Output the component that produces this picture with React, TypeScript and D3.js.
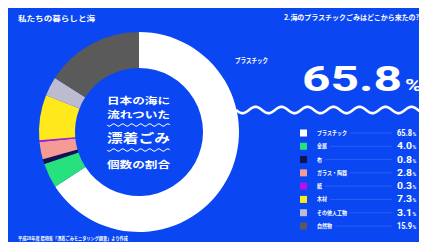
import React, { useLayoutEffect, useRef, useState } from "react";
import * as d3 from "d3";

const categories = ["プラスチック", "金属", "布", "ガラス・陶器", "紙", "木材", "その他人工物", "自然物"];
const shares = [65.8, 4.0, 0.8, 2.8, 0.3, 7.3, 3.1, 15.9];
const sliceColors = ["#ffffff", "#27e27c", "#12124c", "#f59a94", "#b412e6", "#ffe81c", "#bdbbcf", "#5a5a5a"];
const titleLeft = "私たちの暮らしと海";
const titleRight = "2.海のプラスチックごみはどこから来たの?";
const centerLines = ["日本の海に", "流れついた", "漂着ごみ", "個数の割合"];
const footnote = "平成28年度 環境省「漂着ごみモニタリング調査」より作成";

const W = 419;
const H = 234;
const BG = "#0a47f2";
const JP = "'Noto Sans CJK JP', 'Noto Sans', sans-serif";
const NUM = "Roboto, 'Liberation Sans', sans-serif";

function wavePath(x0: number, x1: number, y: number, amp: number, period: number) {
  const pts: [number, number][] = [];
  for (let x = x0; x <= x1; x += 1) {
    pts.push([x, y + amp * Math.sin(((x - x0) / period) * Math.PI * 2)]);
  }
  return d3.line().curve(d3.curveBasis)(pts) || "";
}

type FitProps = {
  x: number;
  y: number;
  width: number;
  size: number;
  family?: string;
  weight?: number;
  anchor?: "start" | "end";
  children: string;
};

function FitText({ x, y, width, size, family = JP, weight = 700, anchor = "start", children }: FitProps) {
  const ref = useRef<SVGTextElement>(null);
  const [k, setK] = useState(1);
  useLayoutEffect(() => {
    const measure = () => {
      if (ref.current) {
        const w = ref.current.getComputedTextLength();
        if (w > 0) setK(width / w);
      }
    };
    measure();
    if ((document as any).fonts && (document as any).fonts.ready) {
      (document as any).fonts.ready.then(measure);
    }
  }, [width, children]);
  return (
    <text
      ref={ref}
      transform={`translate(${x},${y}) scale(${k},1)`}
      fill="#fff"
      fontFamily={family}
      fontWeight={weight}
      fontSize={size}
      textAnchor={anchor}
    >
      {children}
    </text>
  );
}

export default function App() {
  const cx = 139, cy = 132, rOut = 100, rIn = 64;
  const pie = d3.pie<number>().sort(null).value((d) => d)(shares);
  const arc = d3.arc<d3.PieArcDatum<number>>().innerRadius(rIn).outerRadius(rOut);

  const legendY = d3.scalePoint<string>().domain(categories).range([133, 226]);

  return (
    <svg width={W} height={H} style={{ display: "block" }}>
      <g transform="translate(-8,-8)">
        <rect x={8} y={8} width={W} height={H} fill={BG} />
        <FitText x={18} y={21} width={77} size={7}>{titleLeft}</FitText>
        <FitText x={284} y={20} width={135} size={7}>{titleRight}</FitText>

        <g transform={`translate(${cx},${cy})`}>
          {pie.map((p, i) => (
            <path key={i} d={arc(p) || ""} fill={sliceColors[i]} />
          ))}
        </g>

        <FitText x={107} y={104} width={63} size={9.5}>{centerLines[0]}</FitText>
        <FitText x={107} y={118} width={63} size={9.5}>{centerLines[1]}</FitText>
        <FitText x={107} y={143} width={63} size={12.5}>{centerLines[2]}</FitText>
        <FitText x={107} y={168} width={63} size={9.5}>{centerLines[3]}</FitText>
        <path d={wavePath(107, 170, 125, 1.3, 9)} stroke="#fff" strokeWidth={1} fill="none" />
        <path d={wavePath(107, 170, 150, 1.3, 9)} stroke="#fff" strokeWidth={1} fill="none" />

        <FitText x={235} y={63} width={33} size={7}>{categories[0]}</FitText>
        <FitText x={302} y={91} width={100} size={36} family={NUM} weight={700}>{shares[0].toFixed(1)}</FitText>
        <FitText x={405} y={91} width={17} size={17} family={NUM} weight={700}>%</FitText>
        <path d={wavePath(236, 430, 110, 3.2, 26)} stroke="#fff" strokeWidth={2.6} fill="none" />

        {categories.map((c, i) => {
          const y = legendY(c) as number;
          const lw = c.length * 5;
          return (
            <g key={c}>
              <rect x={300} y={y - 3.5} width={7} height={7} fill={sliceColors[i]} />
              <FitText x={317} y={y + 2} width={lw} size={5.5}>{c}</FitText>
              <line x1={317 + lw + 3} x2={392} y1={y} y2={y} stroke="#4a78f4" strokeWidth={0.5} />
              <FitText x={412} y={y + 3} width={15} size={9} family={NUM} weight={700} anchor="end">{shares[i].toFixed(1)}</FitText>
              <text x={412.5} y={y + 3} fill="#fff" fontFamily={NUM} fontWeight={700} fontSize={5}>%</text>
            </g>
          );
        })}

        <FitText x={18} y={240} width={110} size={4.5}>{footnote}</FitText>
      </g>
    </svg>
  );
}
